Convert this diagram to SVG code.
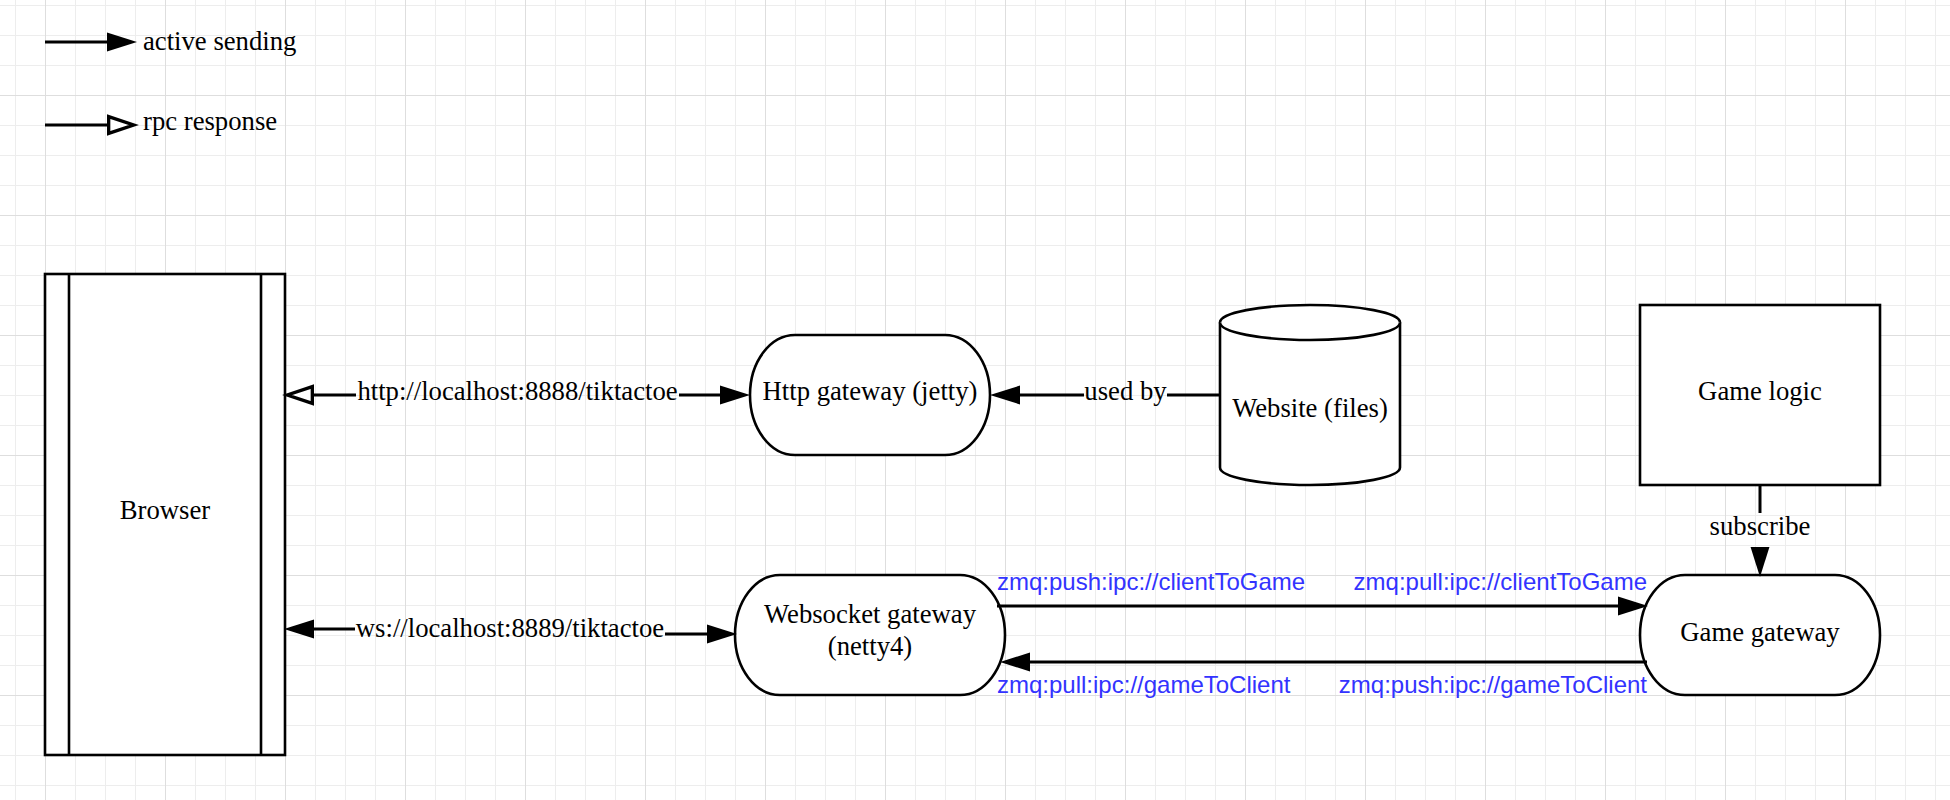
<svg xmlns="http://www.w3.org/2000/svg" width="1950" height="800" viewBox="0 0 1950 800">
<style>
.node{fill:#fff;stroke:#000;stroke-width:2.6}
.edge{fill:none;stroke:#000;stroke-width:3}
.lbl{font-family:"Liberation Serif","Times New Roman",serif;font-size:26.7px;fill:#000}
.mid{text-anchor:middle}
.zmq{font-family:"Liberation Sans",Arial,sans-serif;font-size:24px;fill:#3333ff}
</style>
<defs>
<pattern id="gMinor" x="15" y="5" width="30" height="30" patternUnits="userSpaceOnUse">
<path d="M0,0.5 H30 M0.5,0 V30" fill="none" stroke="#ededed" stroke-width="1"/>
</pattern>
<pattern id="gMajor" x="45" y="95" width="120" height="120" patternUnits="userSpaceOnUse">
<path d="M0,0.5 H120 M0.5,0 V120" fill="none" stroke="#dedede" stroke-width="1"/>
</pattern>
<marker id="block" markerUnits="userSpaceOnUse" markerWidth="30" markerHeight="20" viewBox="0 0 27 18" refX="0" refY="9" orient="auto-start-reverse" overflow="visible">
<path d="M0,0.5 L27,9 L0,17.5 Z" fill="#000" stroke="none"/>
</marker>
<marker id="open" markerUnits="userSpaceOnUse" markerWidth="30" markerHeight="20" viewBox="0 0 27 18" refX="0" refY="9" orient="auto-start-reverse" overflow="visible">
<path d="M1.5,1.5 L24,9 L1.5,16.5 Z" fill="#fff" stroke="#000" stroke-width="3" stroke-linejoin="miter"/>
</marker>
</defs>
<rect width="1950" height="800" fill="#fff"/>
<rect width="1950" height="800" fill="url(#gMinor)"/>
<rect width="1950" height="800" fill="url(#gMajor)"/>

<g id="legend">
<path class="edge" d="M45,42 H107" marker-end="url(#block)"/>
<text class="lbl" x="143" y="50">active sending</text>
<path class="edge" d="M45,125 H107" marker-end="url(#open)"/>
<text class="lbl" x="143" y="130">rpc response</text>
</g>

<g id="browser">
<rect class="node" x="45" y="274" width="240" height="481"/>
<path class="node" d="M69,274 V755 M261,274 V755"/>
<text class="lbl mid" x="165" y="519">Browser</text>
</g>

<g id="http-gateway">
<rect class="node" x="750" y="335" width="240" height="120" rx="45" ry="60"/>
<text class="lbl mid" x="870" y="400">Http gateway (jetty)</text>
</g>

<g id="website">
<path class="node" d="M1220,322.5 A90,17.5 0 0 1 1400,322.5 V467.5 A90,17.5 0 0 1 1220,467.5 Z"/>
<path class="node" d="M1220,322.5 A90,17.5 0 0 0 1400,322.5" fill="none"/>
<text class="lbl mid" x="1310" y="417">Website (files)</text>
</g>

<g id="game-logic">
<rect class="node" x="1640" y="305" width="240" height="180"/>
<text class="lbl mid" x="1760" y="400">Game logic</text>
</g>

<g id="websocket-gateway">
<rect class="node" x="735" y="575" width="270" height="120" rx="45" ry="60"/>
<text class="lbl mid" x="870" y="623">Websocket gateway</text>
<text class="lbl mid" x="870" y="655">(netty4)</text>
</g>

<g id="game-gateway">
<rect class="node" x="1640" y="575" width="240" height="120" rx="45" ry="60"/>
<text class="lbl mid" x="1760" y="641">Game gateway</text>
</g>

<g id="connectors">
<g id="e-http">
<path class="edge" d="M356,395 H314" marker-end="url(#open)"/>
<text class="lbl mid" x="517.5" y="400">http://localhost:8888/tiktactoe</text>
<path class="edge" d="M679,395 H720" marker-end="url(#block)"/>
</g>
<g id="e-ws">
<path class="edge" d="M355,629 H314" marker-end="url(#block)"/>
<text class="lbl mid" x="510" y="637">ws://localhost:8889/tiktactoe</text>
<path class="edge" d="M665,634 H707" marker-end="url(#block)"/>
</g>
<g id="e-usedby">
<path class="edge" d="M1221,395 H1167"/>
<text class="lbl mid" x="1125.5" y="400">used by</text>
<path class="edge" d="M1084,395 H1020" marker-end="url(#block)"/>
</g>
<g id="e-subscribe">
<path class="edge" d="M1760,485 V513"/>
<text class="lbl mid" x="1760" y="535">subscribe</text>
<path d="M1760,546 V547" fill="none" stroke="none" marker-end="url(#block)"/>
</g>
<g id="e-c2g">
<path class="edge" d="M997,606 H1618" marker-end="url(#block)"/>
<text class="zmq" x="997" y="590">zmq:push:ipc://clientToGame</text>
<text class="zmq" x="1647" y="590" text-anchor="end">zmq:pull:ipc://clientToGame</text>
</g>
<g id="e-g2c">
<path class="edge" d="M1647,662 H1030" marker-end="url(#block)"/>
<text class="zmq" x="997" y="693">zmq:pull:ipc://gameToClient</text>
<text class="zmq" x="1647" y="693" text-anchor="end">zmq:push:ipc://gameToClient</text>
</g>
</g>
</svg>
